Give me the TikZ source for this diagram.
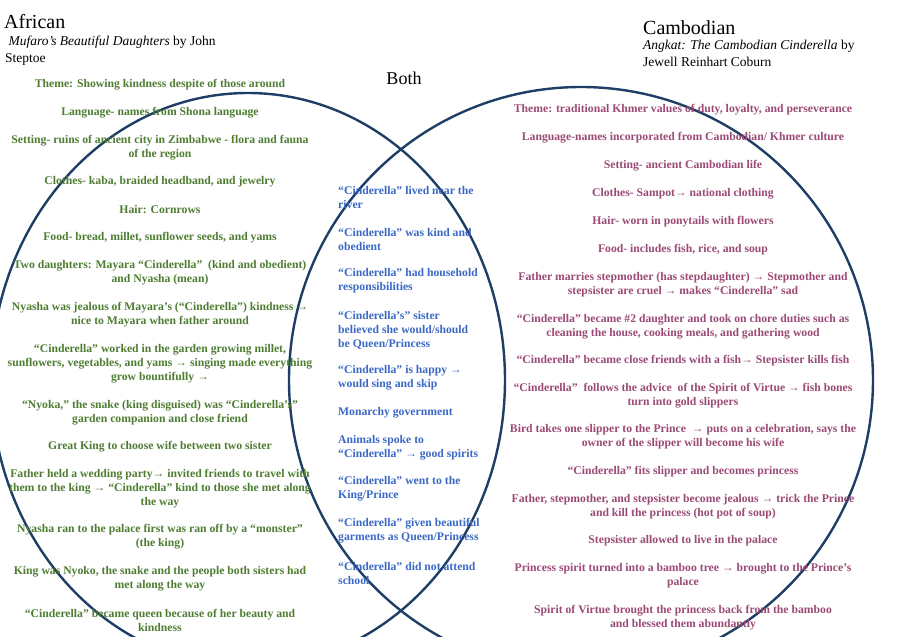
\documentclass[tikz,border=0pt]{standalone}
\usepackage{fontspec}
\setmainfont{Liberation Serif}
\definecolor{gr}{HTML}{4E7D32}
\definecolor{bl}{HTML}{3A68C4}
\definecolor{mv}{HTML}{9A4A74}
\definecolor{ring}{HTML}{1E3E66}
\begin{document}
\begin{tikzpicture}[x=1pt,y=-1pt,
  t/.style={font=\bfseries\fontsize{11.7}{14}\selectfont,align=center,inner sep=0pt},
  ga/.style={t,text=gr},
  ma/.style={t,text=mv},
  ba/.style={font=\bfseries\fontsize{11.7}{14}\selectfont,align=left,inner sep=0pt,text=bl,anchor=west},
  ring/.style={draw=ring,line width=2.4pt}]
\useasboundingbox (0,0) rectangle (898,637);
\begin{scope}
\clip (0,0) rectangle (898,637);
\draw[ring] (248,380) ellipse [x radius=257,y radius=287];
\draw[ring] (581,380) ellipse [x radius=292,y radius=293];
\end{scope}
% titles
\node[anchor=west,inner sep=0pt,font=\fontsize{20}{22}\selectfont] (afr) at (4,22) {African};
\node[anchor=north west,inner sep=0pt,align=left,font=\fontsize{13.5}{17}\selectfont] (afrb) at (5,36) {\ \textit{Mufaro's Beautiful Daughters} by John\\Steptoe};
\node[inner sep=0pt,font=\fontsize{18}{20}\selectfont] (both) at (404,78) {Both};
\node[anchor=west,inner sep=0pt,font=\fontsize{20}{22}\selectfont] (cam) at (643,28) {Cambodian};
\node[anchor=north west,inner sep=0pt,align=left,font=\fontsize{13.5}{17}\selectfont] (camb) at (643,40) {\textit{Angkat: The Cambodian Cinderella} by\\Jewell Reinhart Coburn};
% African
\node[ga] (a1) at (160,85) {Theme: Showing kindness despite of those around};
\node[ga] (a2) at (160,113) {Language- names from Shona language};
\node[ga] (a3) at (160,148) {Setting- ruins of ancient city in Zimbabwe - flora and fauna\\of the region};
\node[ga] (a4) at (160,182) {Clothes- kaba, braided headband, and jewelry};
\node[ga] (a5) at (160,210) {Hair: Cornrows};
\node[ga] (a6) at (160,238) {Food- bread, millet, sunflower seeds, and yams};
\node[ga] (a7) at (160,273) {Two daughters: Mayara “Cinderella”\ \ (kind and obedient)\\and Nyasha (mean)};
\node[ga] (a8) at (160,315) {Nyasha was jealous of Mayara’s (“Cinderella”) kindness →\\nice to Mayara when father around};
\node[ga] (a9) at (160,364) {“Cinderella” worked in the garden growing millet,\\sunflowers, vegetables, and yams → singing made everything\\grow bountifully →};
\node[ga] (a10) at (160,413) {“Nyoka,” the snake (king disguised) was “Cinderella’s”\\garden companion and close friend};
\node[ga] (a11) at (160,447) {Great King to choose wife between two sister};
\node[ga] (a12) at (160,489) {Father held a wedding party→ invited friends to travel with\\them to the king → “Cinderella” kind to those she met along\\the way};
\node[ga] (a13) at (160,537) {Nyasha ran to the palace first was ran off by a “monster”\\(the king)};
\node[ga] (a14) at (160,579) {King was Nyoko, the snake and the people both sisters had\\met along the way};
\node[ga] (a15) at (160,620) {“Cinderella” became queen because of her beauty and\\kindness};
% Both
\node[ba] (b1) at (338,197) {“Cinderella” lived near the\\river};
\node[ba] (b2) at (338,239) {“Cinderella” was kind and\\obedient};
\node[ba] (b3) at (338,281) {“Cinderella” had household\\responsibilities};
\node[ba] (b4) at (338,330) {“Cinderella’s” sister\\believed she would/should\\be Queen/Princess};
\node[ba] (b5) at (338,378) {“Cinderella” is happy →\\would sing and skip};
\node[ba] (b6) at (338,413) {Monarchy government};
\node[ba] (b7) at (338,448) {Animals spoke to\\“Cinderella” → good spirits};
\node[ba] (b8) at (338,489) {“Cinderella” went to the\\King/Prince};
\node[ba] (b9) at (338,531) {“Cinderella” given beautiful\\garments as Queen/Princess};
\node[ba] (b10) at (338,573) {“Cinderella” did not attend\\school};
% Cambodian
\node[ma] (c1) at (683,110) {Theme: traditional Khmer values of duty, loyalty, and perseverance};
\node[ma] (c2) at (683,138) {Language-names incorporated from Cambodian/ Khmer culture};
\node[ma] (c3) at (683,166) {Setting- ancient Cambodian life};
\node[ma] (c4) at (683,194) {Clothes- Sampot→ national clothing};
\node[ma] (c5) at (683,222) {Hair- worn in ponytails with flowers};
\node[ma] (c6) at (683,250) {Food- includes fish, rice, and soup};
\node[ma] (c7) at (683,285) {Father marries stepmother (has stepdaughter) → Stepmother and\\stepsister are cruel → makes “Cinderella” sad};
\node[ma] (c8) at (683,327) {“Cinderella” became \#2 daughter and took on chore duties such as\\cleaning the house, cooking meals, and gathering wood};
\node[ma] (c9) at (683,361) {“Cinderella” became close friends with a fish→ Stepsister kills fish};
\node[ma] (c10) at (683,396) {“Cinderella”\ \ follows the advice\ \ of the Spirit of Virtue → fish bones\\turn into gold slippers};
\node[ma] (c11) at (683,437) {Bird takes one slipper to the Prince\ \ → puts on a celebration, says the\\owner of the slipper will become his wife};
\node[ma] (c12) at (683,472) {“Cinderella” fits slipper and becomes princess};
\node[ma] (c13) at (683,507) {Father, stepmother, and stepsister become jealous → trick the Prince\\and kill the princess (hot pot of soup)};
\node[ma] (c14) at (683,541) {Stepsister allowed to live in the palace};
\node[ma] (c15) at (683,576) {Princess spirit turned into a bamboo tree → brought to the Prince’s\\palace};
\node[ma] (c16) at (683,618) {Spirit of Virtue brought the princess back from the bamboo\\and blessed them abundantly};
\end{tikzpicture}
\end{document}
